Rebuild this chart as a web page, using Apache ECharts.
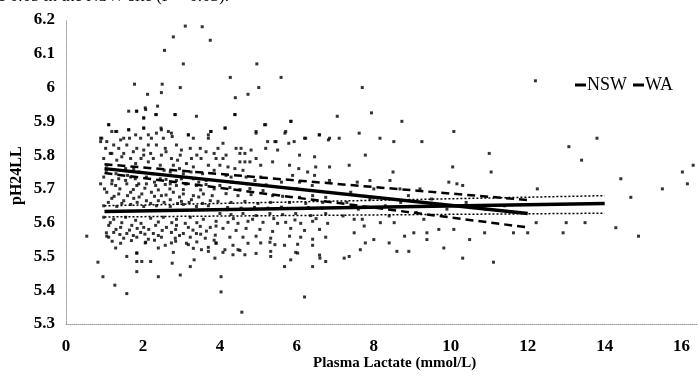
<!DOCTYPE html>
<html>
<head>
<meta charset="utf-8">
<script src="https://cdn.jsdelivr.net/npm/echarts@6/dist/echarts.min.js"></script>
<style>
  html, body { margin: 0; padding: 0; background: #fff; }
  #chart { width: 700px; height: 378px; }
</style>
</head>
<body>
<div id="chart"></div>
<script>
// tick labels
const xTicks = [0, 2, 4, 6, 8, 10, 12, 14, 16];
const yTicks = [5.3, 5.4, 5.5, 5.6, 5.7, 5.8, 5.9, 6, 6.1, 6.2];

// fitted lines (endpoints)
const nswFit = [[1, 5.76], [12, 5.627]];
const nswUpper = [[1, 5.773], [12, 5.667]];
const nswLower = [[1, 5.747], [12, 5.586]];
const waFit = [[1, 5.633], [14, 5.657]];
const waUpper = [[1, 5.65], [14, 5.68]];
const waLower = [[1, 5.617], [14, 5.628]];

// carcase samples [lactate, pH24LL]
const outliers = [
  [3.10, 6.182], [3.54, 6.18], [2.79, 6.15], [3.75, 6.14], [2.56, 6.11], [3.05, 6.07], [4.96, 6.07],
  [1.78, 6.01], [4.27, 6.03], [2.97, 6.0], [2.5, 6.01], [2.12, 5.98], [2.48, 5.985], [4.73, 5.98],
  [5.01, 6.0], [4.4, 5.97], [5.59, 6.03], [2.38, 5.945], [2.06, 5.94], [1.84, 5.93], [2.33, 5.92],
  [2.83, 5.92], [3.39, 5.915], [4.39, 5.92], [2.02, 5.91], [1.11, 5.89], [2.02, 5.88], [2.47, 5.88],
  [4.14, 5.88], [3.76, 5.87], [1.29, 5.87], [1.63, 5.875], [2.74, 5.865], [3.18, 5.86], [5.16, 5.89],
  [5.85, 5.9], [7.05, 5.915], [0.9, 5.85], [3.7, 5.86], [4.94, 5.87], [5.69, 5.865], [6.2, 5.85],
  [6.58, 5.86], [6.85, 5.85], [7.1, 5.85], [5.46, 5.84], [5.24, 5.84], [5.93, 5.84]
];
const farRight = [
  [12.2, 6.02], [7.7, 6.0], [7.94, 5.925], [8.73, 5.9], [7.62, 5.865], [8.16, 5.85], [8.52, 5.84],
  [9.25, 5.84], [10.08, 5.87], [11.0, 5.805], [7.78, 5.8], [10.05, 5.765], [11.05, 5.75], [8.5, 5.75],
  [13.07, 5.825], [13.8, 5.85], [13.4, 5.785], [14.42, 5.73], [16.02, 5.75], [16.15, 5.715], [16.3, 5.77],
  [7.36, 5.77], [7.57, 5.72], [7.9, 5.725], [8.42, 5.725], [9.95, 5.72], [10.16, 5.715], [10.31, 5.71],
  [8.68, 5.70], [9.2, 5.70], [12.25, 5.70], [15.5, 5.70],
  [14.68, 5.675], [14.29, 5.585], [14.88, 5.56], [12.92, 5.57], [12.22, 5.6], [13.0, 5.60], [13.49, 5.60],
  [11.11, 5.483], [10.31, 5.495], [10.88, 5.57], [10.49, 5.55], [9.82, 5.525], [9.38, 5.55], [9.38, 5.57],
  [8.91, 5.515], [8.6, 5.515], [8.4, 5.54], [8.0, 5.55], [7.65, 5.52], [9.04, 5.57], [8.8, 5.56],
  [7.78, 5.54], [7.49, 5.57], [10.08, 5.58], [9.69, 5.58], [7.36, 5.5], [8.17, 5.60], [8.53, 5.60],
  [7.75, 5.59], [7.49, 5.61], [12.0, 5.57], [11.63, 5.57],
  [7.3, 5.66], [7.6, 5.64], [7.9, 5.67], [8.3, 5.65], [8.7, 5.66], [9.1, 5.63], [9.5, 5.67], [9.9, 5.64],
  [10.4, 5.66], [10.9, 5.64], [11.4, 5.65], [7.4, 5.69], [8.0, 5.70], [8.9, 5.68], [7.2, 5.62], [7.7, 5.61],
  [8.4, 5.62], [9.3, 5.61]
];
const lowTail = [
  [0.54, 5.56], [0.83, 5.483], [0.96, 5.44], [1.27, 5.415], [1.58, 5.39], [1.84, 5.455], [2.4, 5.44],
  [2.97, 5.445], [4.03, 5.44], [4.03, 5.395], [4.57, 5.335], [6.2, 5.38], [3.23, 5.47], [2.76, 5.48],
  [1.84, 5.485], [1.97, 5.485], [2.2, 5.485], [1.58, 5.5], [1.84, 5.51], [3.33, 5.49], [3.87, 5.495],
  [4.34, 5.505], [4.65, 5.505], [5.32, 5.5], [5.68, 5.47], [5.84, 5.49], [6.41, 5.47], [6.75, 5.485],
  [6.6, 5.495], [7.23, 5.495], [6.02, 5.51], [1.29, 5.525], [1.06, 5.56], [2.06, 5.54], [2.74, 5.54],
  [2.4, 5.525], [3.52, 5.52], [3.7, 5.515], [4.13, 5.52], [4.47, 5.52], [5.06, 5.54], [5.43, 5.535],
  [3.9, 5.54], [3.18, 5.535]
];
const upperBand = [
  [1.63, 5.93], [1.83, 5.93], [2.07, 5.935], [2.35, 5.92], [2.84, 5.92], [2.02, 5.91], [1.11, 5.89],
  [2.02, 5.88], [1.63, 5.875], [1.19, 5.87], [1.32, 5.87], [2.35, 5.865], [2.48, 5.875], [2.66, 5.87],
  [2.14, 5.86], [1.81, 5.86], [1.5, 5.85], [0.93, 5.85], [0.9, 5.84], [1.06, 5.84], [1.42, 5.845],
  [1.65, 5.85], [1.94, 5.85], [2.22, 5.85], [2.53, 5.85], [2.76, 5.855], [3.18, 5.86], [3.31, 5.85],
  [3.7, 5.85], [3.77, 5.87], [1.03, 5.82], [1.24, 5.83], [1.37, 5.82], [1.58, 5.83], [1.84, 5.82],
  [2.02, 5.815], [2.14, 5.83], [2.35, 5.83], [2.58, 5.82], [2.87, 5.83], [3.0, 5.815], [3.23, 5.82],
  [3.49, 5.82], [3.64, 5.81], [1.19, 5.805], [1.5, 5.805], [1.68, 5.79], [2.02, 5.8], [2.27, 5.79],
  [2.48, 5.8], [2.74, 5.79], [2.97, 5.80], [3.26, 5.79], [3.51, 5.79], [0.98, 5.79], [1.32, 5.785],
  [1.06, 5.77], [1.81, 5.775], [2.14, 5.78], [2.45, 5.77], [2.79, 5.77], [3.13, 5.775], [3.31, 5.765],
  [3.7, 5.77], [1.55, 5.76], [1.76, 5.76], [2.71, 5.75], [3.05, 5.745], [0.98, 5.735], [1.37, 5.73],
  [1.68, 5.735], [2.09, 5.735], [2.45, 5.73], [2.87, 5.725], [3.31, 5.73], [3.64, 5.725], [1.19, 5.715],
  [1.89, 5.715], [2.71, 5.715], [3.1, 5.715],
  [4.39, 5.92], [5.84, 5.9], [5.19, 5.89], [4.13, 5.88], [4.94, 5.865], [5.71, 5.87], [5.43, 5.84],
  [5.79, 5.835], [6.23, 5.85], [6.59, 5.86], [6.82, 5.845], [3.95, 5.82], [4.08, 5.835], [4.42, 5.82],
  [4.55, 5.82], [4.81, 5.815], [5.19, 5.82], [5.5, 5.815], [4.16, 5.80], [4.08, 5.79], [4.52, 5.805],
  [4.65, 5.805], [4.94, 5.79], [3.9, 5.79], [6.07, 5.8], [6.46, 5.795], [4.52, 5.78], [4.65, 5.78],
  [4.78, 5.78], [5.06, 5.77], [5.37, 5.78], [5.81, 5.77], [6.05, 5.76], [6.49, 5.765], [6.85, 5.765],
  [4.0, 5.77], [4.21, 5.765], [4.39, 5.76], [4.6, 5.755], [6.28, 5.75], [6.46, 5.74], [5.89, 5.74],
  [4.16, 5.74], [4.29, 5.735], [4.68, 5.735], [5.06, 5.735], [4.91, 5.725], [6.85, 5.725], [6.07, 5.72]
];
const coreBand = [
  [0.9, 5.715], [1.29, 5.71], [1.58, 5.715], [1.84, 5.71], [2.09, 5.715], [2.33, 5.71], [2.58, 5.713],
  [2.87, 5.71], [3.13, 5.715], [3.39, 5.71], [3.64, 5.713], [1.06, 5.69], [1.37, 5.685], [1.68, 5.69],
  [1.97, 5.685], [2.22, 5.69], [2.48, 5.68], [2.79, 5.69], [3.05, 5.685], [3.31, 5.68], [3.57, 5.685],
  [1.19, 5.672], [1.5, 5.665], [1.76, 5.672], [2.09, 5.665], [2.4, 5.665], [2.71, 5.668], [3.0, 5.663],
  [3.26, 5.668], [3.75, 5.665], [0.98, 5.65], [1.32, 5.648], [1.68, 5.654], [2.02, 5.648], [2.35, 5.65],
  [2.71, 5.648], [3.05, 5.654], [3.39, 5.648], [3.7, 5.65], [0.98, 5.616], [1.24, 5.61], [1.55, 5.616],
  [1.81, 5.607], [2.2, 5.613], [2.53, 5.616], [2.87, 5.61], [3.23, 5.616], [3.57, 5.61], [1.11, 5.592],
  [1.42, 5.586], [1.71, 5.592], [2.02, 5.586], [2.33, 5.592], [2.61, 5.586], [2.87, 5.592], [3.18, 5.586],
  [3.49, 5.589], [3.75, 5.586], [1.24, 5.571], [1.58, 5.568], [1.94, 5.571], [2.27, 5.568], [2.74, 5.571],
  [3.05, 5.568], [3.39, 5.568], [1.11, 5.557], [1.5, 5.554], [1.84, 5.557], [2.14, 5.551], [2.48, 5.557],
  [2.84, 5.554], [3.23, 5.557], [3.62, 5.554], [1.42, 5.539], [2.07, 5.542], [2.58, 5.533], [3.13, 5.539],
  [1.84, 5.51], [2.79, 5.512], [3.31, 5.524], [3.7, 5.527],
  [4.0, 5.71], [4.26, 5.704], [4.52, 5.698], [4.78, 5.701], [5.12, 5.695], [4.16, 5.686], [4.47, 5.68],
  [4.81, 5.683], [5.37, 5.68], [5.63, 5.678], [6.07, 5.675], [6.41, 5.68], [6.75, 5.675], [3.95, 5.663],
  [4.29, 5.66], [4.65, 5.663], [4.99, 5.657], [5.32, 5.66], [5.81, 5.66], [6.23, 5.657], [6.67, 5.66],
  [4.0, 5.627], [4.29, 5.624], [4.6, 5.627], [4.94, 5.621], [5.3, 5.627], [5.63, 5.624], [5.97, 5.627],
  [6.36, 5.621], [6.75, 5.627], [3.9, 5.604], [4.21, 5.601], [4.47, 5.598], [4.73, 5.604], [5.12, 5.601],
  [5.5, 5.598], [5.71, 5.601], [6.1, 5.598], [6.41, 5.604], [6.8, 5.598], [4.08, 5.583], [4.42, 5.577],
  [4.68, 5.583], [5.04, 5.58], [5.37, 5.574], [5.84, 5.583], [6.2, 5.577], [6.59, 5.58], [3.88, 5.563],
  [4.26, 5.557], [4.6, 5.557], [4.94, 5.56], [5.32, 5.554], [5.81, 5.56], [6.1, 5.557], [6.41, 5.551],
  [6.75, 5.557], [3.9, 5.539], [4.34, 5.533], [4.73, 5.539], [5.3, 5.542], [5.68, 5.533], [6.02, 5.536],
  [6.41, 5.533], [4.08, 5.512], [4.52, 5.518], [4.94, 5.509], [5.32, 5.515], [5.97, 5.512], [6.59, 5.504]
];
// extra points where the scan is darkest (lactate 1-4, pH 5.56-5.82)
const denseFill = [
  [1.15, 5.805], [1.45, 5.795], [1.75, 5.81], [1.95, 5.79], [2.2, 5.805], [2.6, 5.81], [2.9, 5.785],
  [3.4, 5.8], [3.85, 5.805], [1.05, 5.755], [1.3, 5.745], [1.6, 5.74], [1.9, 5.75], [2.25, 5.745],
  [2.55, 5.755], [2.95, 5.76], [3.25, 5.75], [3.55, 5.745], [3.85, 5.755], [1.2, 5.725], [1.55, 5.725],
  [1.8, 5.73], [2.3, 5.72], [2.6, 5.728], [3.0, 5.73], [3.45, 5.72], [1.0, 5.7], [1.4, 5.7], [1.75, 5.698],
  [2.05, 5.702], [2.4, 5.697], [2.7, 5.7], [3.05, 5.698], [3.5, 5.697], [3.85, 5.7], [1.25, 5.678],
  [1.6, 5.68], [1.9, 5.676], [2.3, 5.678], [2.6, 5.682], [2.95, 5.676], [3.45, 5.676], [3.8, 5.68],
  [1.1, 5.66], [1.45, 5.657], [1.85, 5.66], [2.2, 5.657], [2.55, 5.66], [2.9, 5.657], [3.2, 5.66],
  [3.55, 5.657], [1.15, 5.6], [1.45, 5.6], [1.95, 5.598], [2.4, 5.602], [2.75, 5.6], [3.1, 5.598],
  [3.4, 5.6], [3.9, 5.59], [1.3, 5.58], [1.65, 5.578], [1.85, 5.583], [2.15, 5.58], [2.5, 5.577],
  [2.85, 5.58], [3.3, 5.578], [3.65, 5.575], [1.05, 5.57], [1.4, 5.565], [1.75, 5.562], [2.05, 5.566],
  [2.4, 5.562], [2.95, 5.562], [3.5, 5.566], [1.2, 5.545], [1.7, 5.547], [2.3, 5.548], [2.85, 5.545],
  [3.4, 5.543], [3.85, 5.548], [4.2, 5.645], [4.55, 5.643], [4.9, 5.645], [5.25, 5.643], [5.6, 5.646],
  [5.95, 5.642], [6.3, 5.645], [6.65, 5.643], [4.35, 5.612], [4.85, 5.61], [5.4, 5.612], [5.95, 5.608],
  [6.5, 5.612], [4.3, 5.72], [4.7, 5.715], [5.2, 5.712], [5.6, 5.72], [6.0, 5.7], [6.4, 5.71]
];

const samples = [].concat(outliers, farRight, lowTail, upperBand, coreBand, denseFill);

const serif = '"Liberation Serif", "DejaVu Serif", serif';

const chart = echarts.init(document.getElementById('chart'));

const fitLine = (name, data, type, width) => ({
  name: name,
  type: 'line',
  data: data,
  symbol: 'none',
  silent: true,
  z: 3,
  color: '#000',
  itemStyle: { color: '#000' },
  lineStyle: { color: '#000', width: width, type: type }
});

const option = {
  animation: false,
  backgroundColor: '#fff',
  grid: { left: 66, right: 0, top: 20, bottom: 54, containLabel: false },
  legend: {
    left: 570,
    top: 71,
    data: ['NSW', 'WA'],
    icon: 'rect',
    itemWidth: 11,
    itemHeight: 3,
    itemGap: 6,
    textStyle: { fontFamily: serif, fontSize: 18, color: '#000', padding: [0, 0, 0, -4] }
  },
  xAxis: {
    type: 'value',
    min: 0,
    max: 16.4,
    interval: 2,
    axisLine: { show: true, lineStyle: { color: '#999', type: 'dotted', width: 1 } },
    axisTick: { show: false },
    splitLine: { show: false },
    axisLabel: {
      margin: 14,
      fontFamily: serif,
      fontSize: 17,
      fontWeight: 'bold',
      color: '#000',
      formatter: v => (xTicks.indexOf(v) >= 0 ? String(v) : '')
    }
  },
  yAxis: {
    type: 'value',
    min: 5.3,
    max: 6.2,
    interval: 0.1,
    axisLine: { show: true, lineStyle: { color: '#999', type: 'dotted', width: 1 } },
    axisTick: { show: false },
    splitLine: { show: false },
    axisLabel: {
      margin: 11,
      fontFamily: serif,
      fontSize: 17,
      fontWeight: 'bold',
      color: '#000',
      formatter: v => {
        const t = yTicks.find(k => Math.abs(k - v) < 1e-6);
        return t === undefined ? '' : String(t);
      }
    }
  },
  graphic: [
    {
      type: 'text', left: -2, top: -12,
      style: { text: 'e 0.05 in the NSW site (P = 0.03).', font: '17px ' + serif, fill: '#000' }
    },
    {
      type: 'text', left: 313, top: 356,
      style: { text: 'Plasma Lactate (mmol/L)', font: 'bold 15px ' + serif, fill: '#000' }
    },
    {
      type: 'text', x: 9, y: 205, rotation: Math.PI / 2,
      style: { text: 'pH24LL', font: 'bold 16px ' + serif, fill: '#000' }
    }
  ],
  series: [
    {
      name: 'samples',
      type: 'scatter',
      data: samples,
      symbol: 'rect',
      symbolSize: 3,
      silent: true,
      itemStyle: { color: '#000' },
      z: 2
    },
    fitLine('NSW', nswFit, 'solid', 3.5),
    fitLine('nswUpper', nswUpper, [8, 5], 2.5),
    fitLine('nswLower', nswLower, [8, 5], 2.5),
    fitLine('WA', waFit, 'solid', 3.5),
    fitLine('waUpper', waUpper, [2, 2], 1.5),
    fitLine('waLower', waLower, [2, 2], 1.5)
  ]
};

option && chart.setOption(option);
</script>
</body>
</html>
